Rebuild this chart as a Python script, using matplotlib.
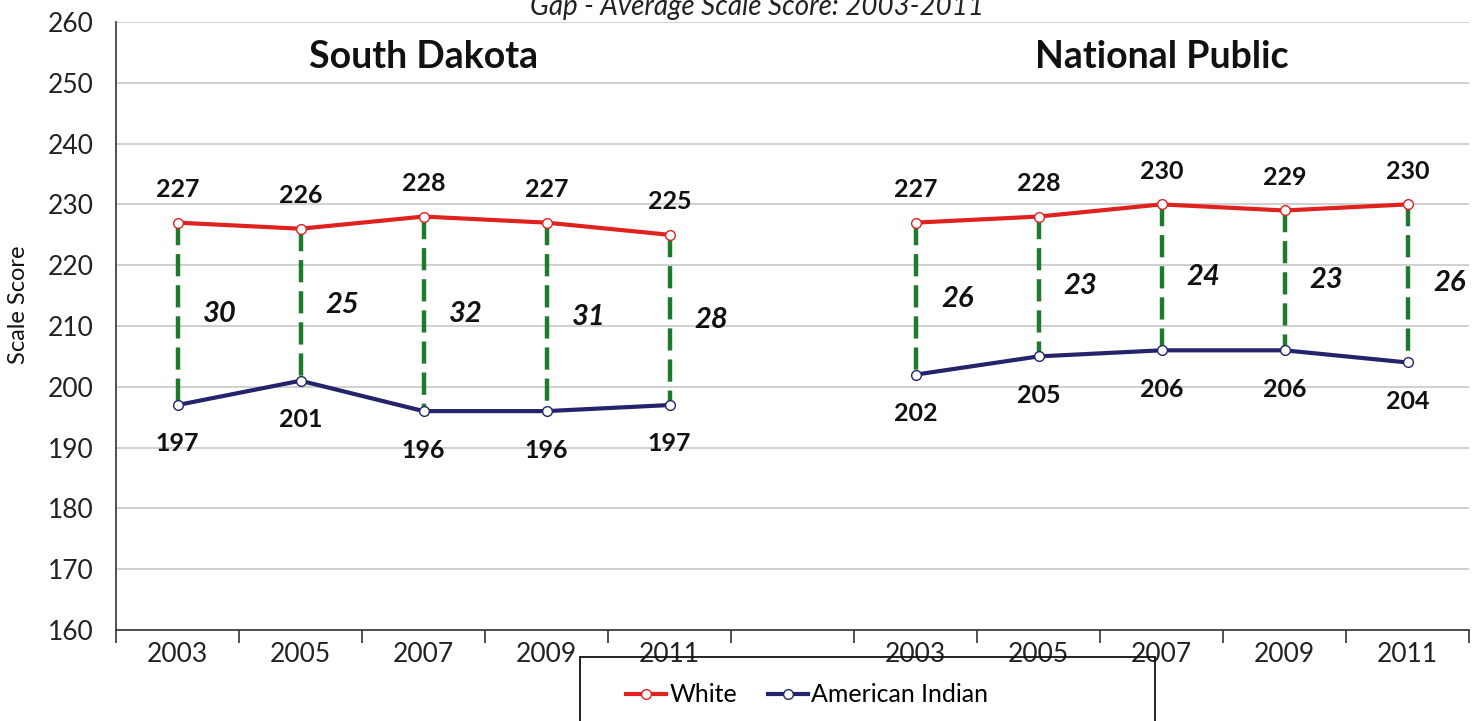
import numpy as np
import matplotlib.pyplot as plt
from matplotlib.patches import Rectangle

plt.rcParams["font.family"] = ["Lato", "DejaVu Sans"]

years = ["2003", "2005", "2007", "2009", "2011"]
panels = ["South Dakota", "National Public"]

sd_white = [227, 226, 228, 227, 225]
sd_indian = [197, 201, 196, 196, 197]
sd_gap = [30, 25, 32, 31, 28]

np_white = [227, 228, 230, 229, 230]
np_indian = [202, 205, 206, 206, 204]
np_gap = [26, 23, 24, 23, 26]

RED = "#e0221f"
NAVY = "#24246c"
GREEN = "#1f7a2e"

fig = plt.figure(figsize=(14.73, 7.21), dpi=100)
ax = fig.add_axes([116 / 1473, 91 / 721, 1353 / 1473, 608 / 721])

# 5 slots per panel with one empty slot in between
x_sd = np.arange(5) + 0.5
x_np = np.arange(5) + 6.5


def draw_panel(x, white, indian, gap, title):
    for xi, w, a, g in zip(x, white, indian, gap):
        ax.plot([xi, xi], [w, a], color=GREEN, lw=3.2, dashes=(5, 2),
                zorder=2)
        ax.text(xi + 0.34, (w + a) / 2, str(g), ha="center", va="center",
                fontsize=21, fontweight="bold", style="italic", color="#111")
        ax.annotate(str(w), (xi, w), xytext=(0, 24), textcoords="offset points",
                    ha="center", va="center", fontsize=18, fontweight="bold",
                    color="#111")
        ax.annotate(str(a), (xi, a), xytext=(0, -28), textcoords="offset points",
                    ha="center", va="center", fontsize=18, fontweight="bold",
                    color="#111")
    ax.plot(x, white, color=RED, lw=3, marker="o", ms=7, mfc="white",
            mec=RED, mew=1, zorder=3)
    ax.plot(x, indian, color=NAVY, lw=3, marker="o", ms=7, mfc="white",
            mec=NAVY, mew=1, zorder=3)
    ax.text(np.mean(x), 254.2, title, ha="center", va="center",
            fontsize=27, fontweight="bold", color="#111")


draw_panel(x_sd, sd_white, sd_indian, sd_gap, panels[0])
draw_panel(x_np, np_white, np_indian, np_gap, panels[1])

ax.set_xlim(0, 11)
ax.set_ylim(160, 260)
ax.set_yticks(np.arange(160, 261, 10))
ax.yaxis.grid(True, color="#c8c8c8", lw=1.2)
ax.set_axisbelow(True)

ax.set_xticks(np.arange(12))
ax.set_xticklabels([])
ax.set_xticks(np.concatenate([x_sd, x_np]), minor=True)
ax.set_xticklabels(years + years, minor=True)
ax.tick_params(axis="x", which="major", length=9, width=1.2, color="#333")
ax.tick_params(axis="x", which="minor", length=0, pad=9, labelsize=19,
               labelcolor="#222")
ax.tick_params(axis="y", length=0, pad=16, labelsize=19, labelcolor="#222")

for side in ["top", "right"]:
    ax.spines[side].set_visible(False)
for side in ["left", "bottom"]:
    ax.spines[side].set_color("#333")
    ax.spines[side].set_linewidth(1.2)

ax.set_ylabel("Scale Score", fontsize=17, color="#111")
ax.yaxis.set_label_coords(-0.064, 0.535)

fig.text(0.514, 0.99, "Gap - Average Scale Score: 2003-2011", ha="center",
         va="center", fontsize=20, style="italic", color="#222")

# legend box runs off the bottom edge
fig.patches.append(Rectangle((580 / 1473, -0.05), 575 / 1473, 0.05 + 64 / 721,
                             transform=fig.transFigure, fill=False,
                             edgecolor="#111", lw=1.3, zorder=5))
handles = [
    plt.Line2D([], [], color=RED, lw=3, marker="o", ms=7, mfc="white",
               mec=RED, mew=1),
    plt.Line2D([], [], color=NAVY, lw=3, marker="o", ms=7, mfc="white",
               mec=NAVY, mew=1),
]
leg = fig.legend(handles, ["White", "American Indian"], loc="center left",
                 bbox_to_anchor=(616 / 1473, 26 / 721), ncol=2, frameon=False,
                 fontsize=18, handlelength=1.6, handletextpad=0.15,
                 columnspacing=1.2, borderaxespad=0)
leg.set_zorder(6)

fig.savefig("out.png", dpi=100)
